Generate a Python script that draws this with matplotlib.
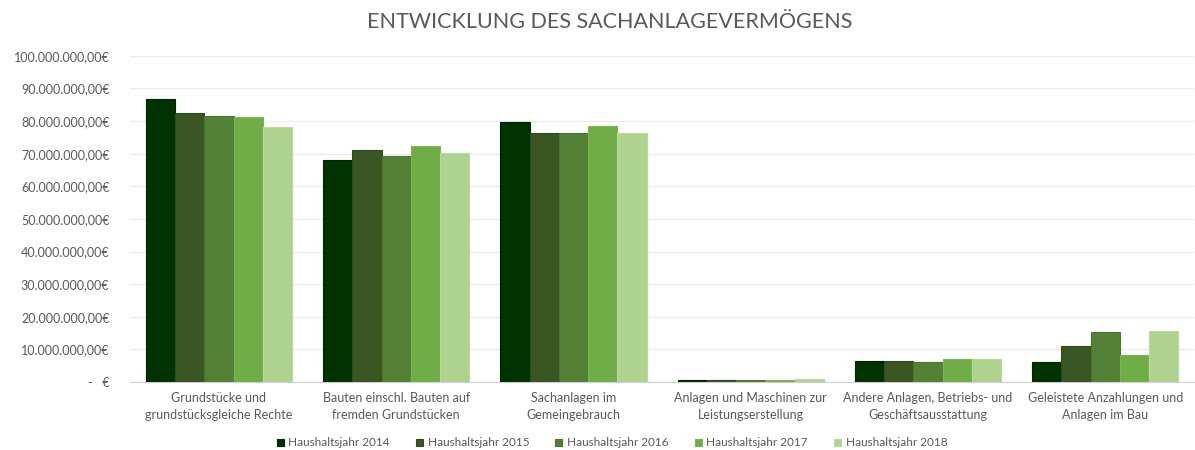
import numpy as np
import matplotlib.pyplot as plt
from matplotlib.ticker import FuncFormatter

plt.rcParams['font.family'] = ['Lato', 'DejaVu Sans']

# Kategorien und Werte (in Euro)
kategorien = [
    "Grundstücke und\ngrundstücksgleiche Rechte",
    "Bauten einschl. Bauten auf\nfremden Grundstücken",
    "Sachanlagen im\nGemeingebrauch",
    "Anlagen und Maschinen zur\nLeistungserstellung",
    "Andere Anlagen, Betriebs- und\nGeschäftsausstattung",
    "Geleistete Anzahlungen und\nAnlagen im Bau",
]
jahre = ["Haushaltsjahr 2014", "Haushaltsjahr 2015", "Haushaltsjahr 2016",
         "Haushaltsjahr 2017", "Haushaltsjahr 2018"]

w2014 = [86.7e6, 68.0e6, 79.8e6, 0.7e6, 6.4e6, 6.0e6]
w2015 = [82.4e6, 71.0e6, 76.3e6, 0.7e6, 6.4e6, 10.9e6]
w2016 = [81.7e6, 69.4e6, 76.3e6, 0.7e6, 6.0e6, 15.2e6]
w2017 = [81.2e6, 72.5e6, 78.6e6, 0.7e6, 7.1e6, 8.4e6]
w2018 = [78.2e6, 70.2e6, 76.3e6, 0.8e6, 7.1e6, 15.6e6]
werte = [w2014, w2015, w2016, w2017, w2018]

farben = ["#003300", "#3a5622", "#538135", "#70ad47", "#aed38e"]
kanten = ["#002600", "#2f4a1c", "#4a752f", "#7cb552", "#b8da9c"]

fig = plt.figure(figsize=(11.95, 4.5), dpi=100)
ax = fig.add_axes([0.109, 0.151, 0.89, 0.725])

x = np.arange(len(kategorien))
bw = 0.165
for i, (vals, jahr) in enumerate(zip(werte, jahre)):
    ax.bar(x + (i - 2) * bw, vals, bw, color=farben[i], edgecolor=kanten[i],
           linewidth=0.8, label=jahr, zorder=3)

ax.set_xlim(-0.5, 5.5)
ax.set_ylim(0, 100e6)
ax.set_yticks(np.arange(0, 100e6 + 1, 10e6))


def euro(v, pos):
    if v == 0:
        return "-   €"
    s = f"{v:,.2f}".replace(",", "X").replace(".", ",").replace("X", ".")
    return s + "€"


ax.yaxis.set_major_formatter(FuncFormatter(euro))
ax.set_xticks(x)
ax.set_xticklabels(kategorien, fontsize=9, color="#595959", linespacing=1.5)
ax.tick_params(axis='y', labelsize=9, labelcolor="#595959", length=0, pad=15)
ax.tick_params(axis='x', length=0, pad=7)

ax.grid(axis='y', color="#ececec", linewidth=0.9, zorder=0)
for s in ["top", "right", "left"]:
    ax.spines[s].set_visible(False)
ax.spines["bottom"].set_color("#d0d0d0")

fig.text(610 / 1195, 1 - 22 / 450, "ENTWICKLUNG DES SACHANLAGEVERMÖGENS",
         ha="center", va="center", fontsize=15.5, color="#595959")

fig.legend(loc="center", bbox_to_anchor=(612 / 1195, 1 - 443 / 450), ncol=5,
           frameon=False, fontsize=8.5, labelcolor="#595959", handlelength=0.6,
           handleheight=0.6, handletextpad=0.4, columnspacing=2.2)

fig.savefig("out.png", dpi=100)
